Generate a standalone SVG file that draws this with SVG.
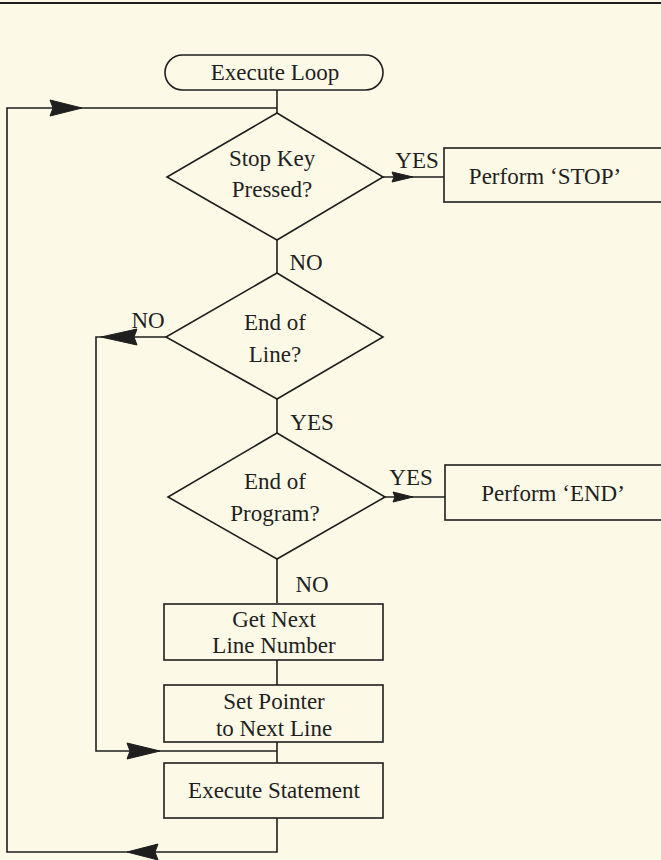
<svg xmlns="http://www.w3.org/2000/svg" width="661" height="860" viewBox="0 0 661 860">
<style>
.bg{fill:#fcfae6}
.s{fill:none;stroke:#1f1f1f;stroke-width:1.6}
.n{fill:#fcfae6;stroke:#1f1f1f;stroke-width:1.6}
.a{fill:#1f1f1f;stroke:#1f1f1f;stroke-width:1;stroke-linejoin:round}
text{font-family:"Liberation Serif","DejaVu Serif",serif;font-size:23px;fill:#1f1f1f;text-anchor:middle}
</style>
<rect class="bg" x="0" y="0" width="661" height="860"/>
<line x1="0" y1="3" x2="661" y2="3" stroke="#1f1f1f" stroke-width="2"/>
<g id="connectors">
<path class="s" d="M277 90 V113"/>
<path class="s" d="M277 108 H7 V852 H277 V818"/>
<path class="s" d="M383 177 H444"/>
<path class="s" d="M277 240 V273"/>
<path class="s" d="M166 337 H96 V751 H277"/>
<path class="s" d="M277 399 V433"/>
<path class="s" d="M385 497 H445"/>
<path class="s" d="M277 559 V603"/>
<path class="s" d="M277 660 V685"/>
<path class="s" d="M277 742 V763"/>
<polygon class="a" points="50,100 82,108 50,116 53,108"/>
<polygon class="a" points="392,172 413,177 392,182 394,177"/>
<polygon class="a" points="137,329 101,337 137,345 134,337"/>
<polygon class="a" points="393,492 413,497 393,502 395,497"/>
<polygon class="a" points="127,743 160,751 127,759 130,751"/>
<polygon class="a" points="158,844 127,852 158,860 155,852"/>
<text x="417" y="168">YES</text>
<text x="306" y="270">NO</text>
<text x="148" y="328">NO</text>
<text x="312" y="430">YES</text>
<text x="411" y="485">YES</text>
<text x="312" y="592">NO</text>
</g>
<g id="start">
<rect class="n" x="165" y="55" width="218" height="35" rx="17.5"/>
<text x="275" y="80">Execute Loop</text>
</g>
<g id="stopkey">
<polygon class="n" points="277,113 383,177 277,240 167,177"/>
<text x="272" y="166">Stop Key</text>
<text x="272" y="197">Pressed?</text>
</g>
<g id="performstop">
<rect class="n" x="444" y="148" width="240" height="54"/>
<text x="545" y="184">Perform ‘STOP’</text>
</g>
<g id="endofline">
<polygon class="n" points="277,273 383,337 277,399 166,337"/>
<text x="275" y="330">End of</text>
<text x="275" y="362">Line?</text>
</g>
<g id="endofprogram">
<polygon class="n" points="277,433 385,497 277,559 168,497"/>
<text x="275" y="489">End of</text>
<text x="275" y="521">Program?</text>
</g>
<g id="performend">
<rect class="n" x="445" y="465" width="234" height="55"/>
<text x="553" y="501">Perform ‘END’</text>
</g>
<g id="getnext">
<rect class="n" x="164" y="604" width="219" height="56"/>
<text x="274" y="627">Get Next</text>
<text x="274" y="653">Line Number</text>
</g>
<g id="setpointer">
<rect class="n" x="164" y="685" width="219" height="57"/>
<text x="274" y="709">Set Pointer</text>
<text x="274" y="736">to Next Line</text>
</g>
<g id="execstmt">
<rect class="n" x="164" y="763" width="219" height="55"/>
<text x="274" y="798">Execute Statement</text>
</g>
</svg>
